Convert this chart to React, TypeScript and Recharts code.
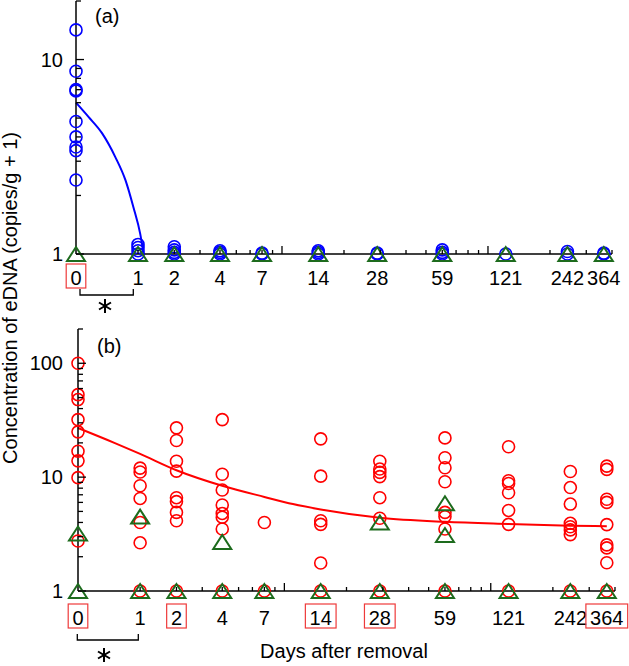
import React from 'react';
import { ComposedChart, Scatter, Line, XAxis, YAxis } from 'recharts';

// sampling days (x axis is drawn as log10(day + 1))
const days = [0, 1, 2, 4, 7, 14, 28, 59, 121, 242, 364];

// (a) blue circles, one list per day
const aCircles = [
  [14.2, 8.7, 7.0, 6.9, 4.8, 4.0, 3.55, 3.4, 2.4],
  [1.12, 1.08, 1.04, 1.0],
  [1.09, 1.05, 1.02, 1.0],
  [1.04, 1.02, 1.0],
  [1.01, 1.0],
  [1.04, 1.02, 1.0],
  [1.01, 1.0],
  [1.05, 1.02, 1.0],
  [1.0],
  [1.03, 1.0],
  [1.01, 1.0],
];
// (a) green triangles
const aTriangles = [[1], [1], [1], [1], [1], [1], [1], [1], [1], [1], [1]];
// (a) fitted curve
const aFitDays = [0, 0.15, 0.34, 0.55, 0.74, 0.9, 1.05, 1.13];
const aFitValues = [6.0, 5.07, 4.17, 3.16, 2.39, 1.74, 1.27, 1.0];

// (b) red circles
const bCircles = [
  [100, 53, 48, 32, 25, 16.9, 13.9, 9.9, 2.75],
  [12.0, 11.1, 8.4, 6.5, 4.0, 2.65, 1],
  [27.1, 21.0, 13.8, 11.3, 6.6, 6.1, 4.9, 4.14, 1],
  [32.0, 10.6, 7.7, 5.7, 4.8, 4.45, 3.5, 1],
  [4.0, 1],
  [21.7, 10.2, 4.14, 3.85, 1.76, 1],
  [13.8, 11.8, 11.0, 10.1, 6.6, 4.35, 1],
  [22.1, 14.8, 12.1, 9.1, 4.9, 4.5, 3.5, 1],
  [18.5, 9.3, 8.8, 7.3, 5.1, 3.85, 1],
  [11.2, 8.1, 5.8, 3.93, 3.67, 3.44, 3.13, 1],
  [12.5, 11.7, 6.4, 6.0, 3.83, 2.54, 2.39, 1.77, 1],
];
// (b) green triangles
const bTriangles = [[3.2, 1], [4.5, 1], [1], [2.7, 1], [1], [1], [4.0, 1], [5.9, 3.1, 1], [1], [1], [1]];
// (b) fitted curve
const bFitDays = [0, 0.5, 1, 2, 4, 7, 10, 14, 28, 59, 121, 242, 364];
const bFitValues = [27, 20, 16, 11.5, 8.4, 6.7, 5.8, 5.2, 4.4, 4.05, 3.88, 3.75, 3.7];

// day labels drawn in a red box
const boxedA = [0];
const boxedB = [0, 2, 14, 28, 364];

// axis tick values
const xMinor = [2, 3, 4, 5, 6, 7, 8, 9, 20, 30, 40, 50, 60, 70, 80, 90, 200, 300, 400];
const xMajor = [10, 100];
const yTicksA = [1, 2, 3, 4, 5, 6, 7, 8, 9, 10, 20];
const yTicksB = [1, 2, 3, 4, 5, 6, 7, 8, 9, 10, 20, 30, 40, 50, 60, 70, 80, 90, 100, 200];
const yLabelsA = [1, 10];
const yLabelsB = [1, 10, 100];

const FONT = '"Liberation Sans", Arial, sans-serif';
const GREEN = '#1d6b1d';

const toPoints = (cols: number[][]) =>
  cols.flatMap((vals, i) => vals.map((v) => ({ x: days[i] + 1, y: v })));
const toFit = (ds: number[], vs: number[]) => ds.map((d, i) => ({ x: d + 1, y: vs[i] }));

const xTickValues = Array.from(
  new Set([...days.map((d) => d + 1), ...xMinor, ...xMajor])
).sort((a, b) => a - b);

const XTick = (props: any) => {
  const { x, y, payload, boxed, labelDy } = props;
  const v = payload.value;
  const day = v - 1;
  const major = xMajor.includes(v);
  const minor = xMinor.includes(v);
  const isLabel = days.includes(day);
  const txt = String(day);
  const w = txt.length * 11.1 + 8.5;
  return (
    <g>
      {(major || minor) && (
        <line x1={x} y1={y} x2={x} y2={y - (major ? 8 : 4)} stroke="#000" strokeWidth={1.3} />
      )}
      {isLabel && boxed.includes(day) && (
        <rect x={x - w / 2} y={y + labelDy - 21} width={w} height={24} fill="none" stroke="#ee3a3a" strokeWidth={1.2} />
      )}
      {isLabel && (
        <text x={x} y={y + labelDy} textAnchor="middle" fontFamily={FONT} fontSize={20} fill="#000">
          {txt}
        </text>
      )}
    </g>
  );
};

const YTick = (props: any) => {
  const { x, y, payload, labels, gap } = props;
  const v = payload.value;
  const isLabel = labels.includes(v);
  return (
    <g>
      <line x1={x} y1={y} x2={x + (isLabel ? 8 : 5)} y2={y} stroke="#000" strokeWidth={1.3} />
      {isLabel && (
        <text x={x - gap} y={y} dy="0.36em" textAnchor="end" fontFamily={FONT} fontSize={20} fill="#000">
          {v}
        </text>
      )}
    </g>
  );
};

const circle = (color: string) => (p: any) => (
  <circle cx={p.cx} cy={p.cy} r={6} fill="none" stroke={color} strokeWidth={1.6} />
);
const triangle = (p: any) => (
  <polygon
    points={`${p.cx},${p.cy - 7} ${p.cx - 9},${p.cy + 7} ${p.cx + 9},${p.cy + 7}`}
    fill="none"
    stroke={GREEN}
    strokeWidth={2}
  />
);

const Star = ({ cx, cy }: { cx: number; cy: number }) => (
  <g stroke="#000" strokeWidth={2} strokeLinecap="butt">
    <line x1={cx} y1={cy - 7} x2={cx} y2={cy + 7} />
    <line x1={cx - 6} y1={cy - 3.5} x2={cx + 6} y2={cy + 3.5} />
    <line x1={cx - 6} y1={cy + 3.5} x2={cx + 6} y2={cy - 3.5} />
  </g>
);

const Panel = ({
  width, height, margin, yWidth, xHeight, yDomain, yTicks, yLabels, yGap,
  circles, triangles, fit, color, boxed, labelDy,
}: any) => (
  <ComposedChart width={width} height={height} margin={margin}>
    <XAxis
      type="number"
      dataKey="x"
      scale="log"
      domain={[1, 400]}
      ticks={xTickValues}
      interval={0}
      height={xHeight}
      tickSize={0}
      tickMargin={0}
      axisLine={{ stroke: '#000', strokeWidth: 1.5 }}
      tick={(p: any) => <XTick {...p} boxed={boxed} labelDy={labelDy} />}
    />
    <YAxis
      type="number"
      dataKey="y"
      scale="log"
      domain={yDomain}
      ticks={yTicks}
      interval={0}
      width={yWidth}
      tickSize={0}
      tickMargin={0}
      axisLine={{ stroke: '#000', strokeWidth: 1.5 }}
      tick={(p: any) => <YTick {...p} labels={yLabels} gap={yGap} />}
    />
    <Scatter data={circles} shape={circle(color)} isAnimationActive={false} />
    <Line
      data={fit}
      dataKey="y"
      type="monotone"
      stroke={color}
      strokeWidth={2}
      dot={false}
      activeDot={false}
      isAnimationActive={false}
    />
    <Scatter data={triangles} shape={triangle} isAnimationActive={false} />
  </ComposedChart>
);

export default function App() {
  return (
    <div style={{ position: 'absolute', left: 0, top: 0, width: 629, height: 666, background: '#fff' }}>
      <div style={{ position: 'absolute', left: 0, top: 0 }}>
        <Panel
          width={629}
          height={300}
          margin={{ top: 1, right: 17, bottom: 0, left: 0 }}
          yWidth={76}
          xHeight={46}
          yDomain={[1, 20]}
          yTicks={yTicksA}
          yLabels={yLabelsA}
          yGap={13}
          circles={toPoints(aCircles)}
          triangles={toPoints(aTriangles)}
          fit={toFit(aFitDays, aFitValues)}
          color="#0000ff"
          boxed={boxedA}
          labelDy={31}
        />
      </div>
      <div style={{ position: 'absolute', left: 0, top: 310 }}>
        <Panel
          width={629}
          height={356}
          margin={{ top: 19, right: 14, bottom: 0, left: 0 }}
          yWidth={78}
          xHeight={75}
          yDomain={[1, 200]}
          yTicks={yTicksB}
          yLabels={yLabelsB}
          yGap={15}
          circles={toPoints(bCircles)}
          triangles={toPoints(bTriangles)}
          fit={toFit(bFitDays, bFitValues)}
          color="#ff0000"
          boxed={boxedB}
          labelDy={34}
        />
      </div>
      <svg
        width={629}
        height={666}
        style={{ position: 'absolute', left: 0, top: 0, pointerEvents: 'none' }}
        fontFamily={FONT}
      >
        <text x={95} y={22.5} fontSize={20} fill="#000">(a)</text>
        <text x={97} y={352.5} fontSize={20} fill="#000">(b)</text>
        <text
          transform="translate(17,298) rotate(-90)"
          textAnchor="middle"
          fontSize={20}
          fill="#000"
        >
          Concentration of eDNA (copies/g + 1)
        </text>
        <text x={344} y={658} textAnchor="middle" fontSize={20} fill="#000">
          Days after removal
        </text>
        <path d="M80,289 V295 H133.3 V289" fill="none" stroke="#000" strokeWidth={1.3} />
        <Star cx={105} cy={306} />
        <path d="M77.3,634 V640 H138.3 V634" fill="none" stroke="#000" strokeWidth={1.3} />
        <Star cx={104} cy={655} />
      </svg>
    </div>
  );
}
